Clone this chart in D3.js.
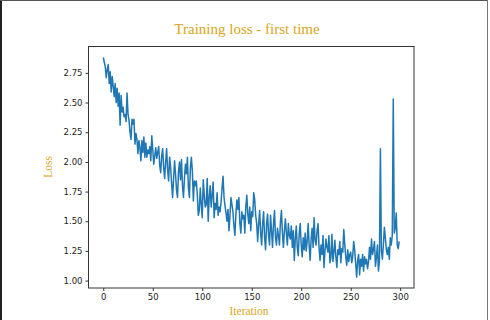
<!DOCTYPE html>
<html>
<head>
<meta charset="utf-8">
<script src="https://cdn.jsdelivr.net/npm/d3@7"></script>
<style>
  body { margin: 0; background: #fff; }
  svg { display: block; }
</style>
</head>
<body>
<div id="chart"></div>
<script>
// chart values
const titleText = "Training loss - first time";
const xLabel = "Iteration";
const yLabel = "Loss";
const xTicks = [0, 50, 100, 150, 200, 250, 300];
const yTicks = [1.00, 1.25, 1.50, 1.75, 2.00, 2.25, 2.50, 2.75];

// loss per iteration (0..299)
const loss = [
  2.88, 2.84, 2.80, 2.71, 2.78, 2.82, 2.66, 2.76, 2.59, 2.72,
  2.64, 2.55, 2.66, 2.50, 2.62, 2.47, 2.58, 2.31, 2.56, 2.42,
  2.46, 2.38, 2.40, 2.34, 2.58, 2.40, 2.35, 2.25, 2.19, 2.36,
  2.32, 2.36, 2.15, 2.24, 2.19, 2.07, 2.18, 2.12, 2.01, 2.18,
  2.08, 2.21, 2.04, 2.16, 2.04, 2.10, 2.07, 2.13, 2.01, 2.22,
  2.10, 1.98, 2.05, 2.12, 2.03, 2.08, 2.13, 1.97, 1.91, 2.05,
  2.11, 1.95, 1.86, 2.00, 2.11, 1.93, 1.84, 2.04, 1.96, 1.82,
  1.70, 1.85, 2.01, 1.90, 1.76, 1.70, 1.92, 2.00, 1.85, 2.02,
  1.80, 1.70, 1.86, 1.98, 1.90, 2.04, 1.78, 1.70, 1.95, 2.04,
  1.92, 1.67, 1.84, 1.80, 1.84, 1.72, 1.55, 1.59, 1.78, 1.64,
  1.53, 1.85, 1.72, 1.62, 1.64, 1.86, 1.50, 1.70, 1.80, 1.62,
  1.72, 1.83, 1.53, 1.65, 1.60, 1.74, 1.55, 1.62, 1.58, 1.66,
  1.78, 1.88, 1.70, 1.63, 1.57, 1.50, 1.60, 1.42, 1.55, 1.70,
  1.64, 1.58, 1.46, 1.38, 1.56, 1.68, 1.60, 1.70, 1.48, 1.40,
  1.58, 1.52, 1.55, 1.40, 1.62, 1.72, 1.56, 1.48, 1.62, 1.42,
  1.58, 1.54, 1.74, 1.68, 1.55, 1.48, 1.33, 1.48, 1.59, 1.40,
  1.30, 1.48, 1.58, 1.36, 1.26, 1.48, 1.56, 1.38, 1.30, 1.55,
  1.42, 1.28, 1.48, 1.59, 1.36, 1.30, 1.44, 1.38, 1.30, 1.50,
  1.59, 1.40, 1.28, 1.42, 1.52, 1.40, 1.30, 1.48, 1.38, 1.35,
  1.46, 1.28, 1.42, 1.17, 1.35, 1.46, 1.28, 1.21, 1.40, 1.48,
  1.30, 1.20, 1.36, 1.26, 1.40, 1.25, 1.33, 1.48, 1.30, 1.17,
  1.35, 1.44, 1.28, 1.53, 1.34, 1.30, 1.42, 1.48, 1.28, 1.17,
  1.30, 1.22, 1.38, 1.11, 1.25, 1.35, 1.28, 1.24, 1.38, 1.15,
  1.20, 1.39, 1.16, 1.24, 1.34, 1.20, 1.11, 1.26, 1.22, 1.33,
  1.15, 1.27, 1.24, 1.43, 1.30, 1.20, 1.13, 1.26, 1.16, 1.22,
  1.24, 1.15, 1.20, 1.33, 1.26, 1.14, 1.03, 1.17, 1.22, 1.05,
  1.18, 1.12, 1.22, 1.08, 1.20, 1.14, 1.18, 1.10, 1.16, 1.28,
  1.18, 1.35, 1.22, 1.26, 1.33, 1.12, 1.20, 1.30, 1.08, 1.16,
  2.11, 1.25, 1.18, 1.30, 1.45, 1.36, 1.26, 1.22, 1.28, 1.18,
  1.36, 1.30, 1.38, 2.53, 1.40, 1.44, 1.57, 1.30, 1.27, 1.33
];

var width = 490, height = 320;
var margin = { top: 46.5, right: 76, bottom: 32, left: 88.5 };
var gold = "#daa520";

var svg = d3.select("#chart").append("svg")
    .attr("width", width)
    .attr("height", height);

// frame around the picture
svg.append("line").attr("x1", 1).attr("x2", 1).attr("y1", 0).attr("y2", height)
    .attr("stroke", "#222").attr("stroke-width", 2);
svg.append("line").attr("x1", 0).attr("x2", 488).attr("y1", 0.5).attr("y2", 0.5)
    .attr("stroke", "#555").attr("stroke-width", 1);
svg.append("line").attr("x1", 487.5).attr("x2", 487.5).attr("y1", 0).attr("y2", height)
    .attr("stroke", "#777").attr("stroke-width", 1);

var iw = width - margin.left - margin.right,
    ih = height - margin.top - margin.bottom;

// matplotlib style 5% padding on both axes
var n = loss.length;
var xPad = (n - 1) * 0.05;
var x = d3.scaleLinear().domain([-xPad, n - 1 + xPad]).range([0, iw]);
var ext = d3.extent(loss);
var yPad = (ext[1] - ext[0]) * 0.05;
var y = d3.scaleLinear().domain([ext[0] - yPad, ext[1] + yPad]).range([ih, 0]);

var g = svg.append("g").attr("transform", "translate(" + margin.left + "," + margin.top + ")");

// loss line
var line = d3.line()
    .x(function (d, i) { return x(i); })
    .y(function (d) { return y(d); });

g.append("path")
    .datum(loss)
    .attr("d", line)
    .attr("fill", "none")
    .attr("stroke", "#1f77b4")
    .attr("stroke-width", 1.5)
    .attr("stroke-linejoin", "round");

// axes
var xAxis = g.append("g")
    .attr("transform", "translate(0," + ih + ")")
    .call(d3.axisBottom(x).tickValues(xTicks).tickSize(3).tickPadding(3).tickFormat(d3.format("d")));
var yAxis = g.append("g")
    .call(d3.axisLeft(y).tickValues(yTicks).tickSize(3).tickPadding(3).tickFormat(d3.format(".2f")));

[xAxis, yAxis].forEach(function (a) {
    a.select(".domain").remove();
    a.selectAll("line").attr("stroke", "#333");
    a.selectAll("text")
        .attr("fill", "#222")
        .style("font-family", "DejaVu Sans")
        .style("font-size", "8.5px");
});

// plot frame (spines)
g.append("rect")
    .attr("width", iw).attr("height", ih)
    .attr("fill", "none")
    .attr("stroke", "#333")
    .attr("stroke-width", 1);

// title and labels
svg.append("text")
    .attr("x", 247).attr("y", 34)
    .attr("text-anchor", "middle")
    .attr("fill", gold)
    .style("font-family", "Liberation Serif")
    .style("font-size", "15px")
    .text(titleText);

svg.append("text")
    .attr("x", 249).attr("y", 315)
    .attr("text-anchor", "middle")
    .attr("fill", gold)
    .style("font-family", "Liberation Serif")
    .style("font-size", "11.5px")
    .text(xLabel);

svg.append("text")
    .attr("transform", "translate(52,167) rotate(-90)")
    .attr("text-anchor", "middle")
    .attr("fill", gold)
    .style("font-family", "Liberation Serif")
    .style("font-size", "11.5px")
    .text(yLabel);
</script>
</body>
</html>
